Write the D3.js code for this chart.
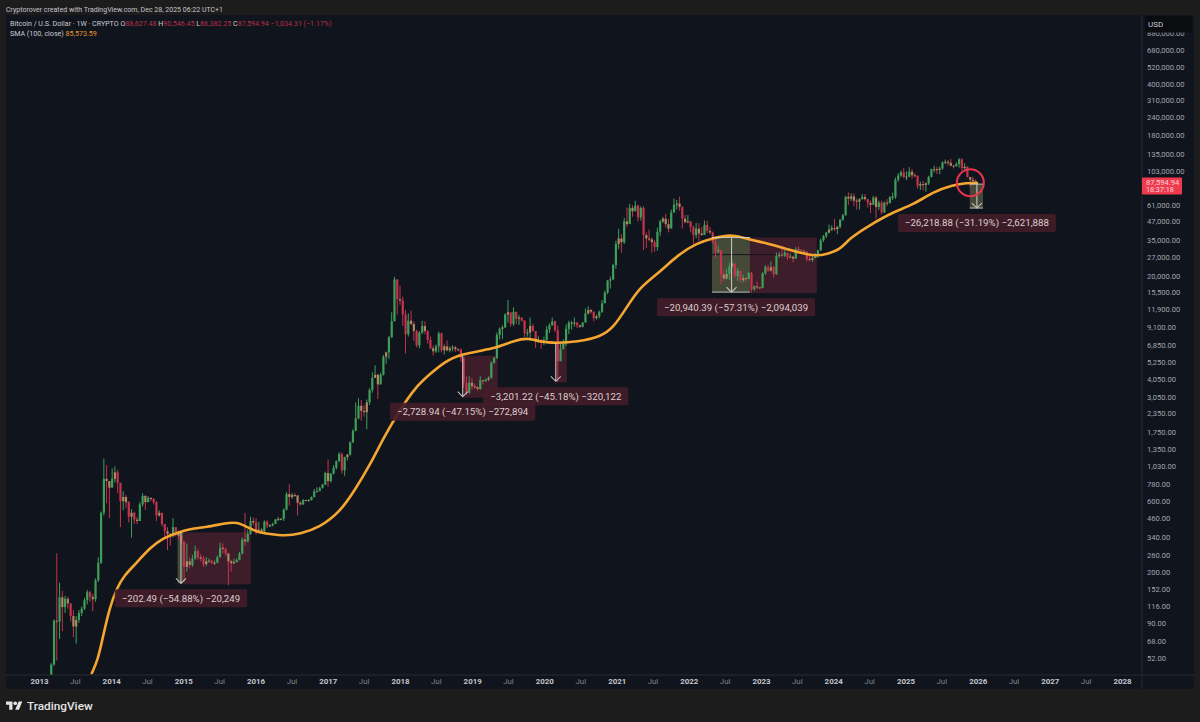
<!DOCTYPE html>
<html><head><meta charset="utf-8">
<script src="https://cdn.jsdelivr.net/npm/d3@7/dist/d3.min.js"></script>
<style>
html,body{margin:0;padding:0;background:#1c1c1d;}
svg{display:block;font-family:Roboto,"Liberation Sans",sans-serif;}
.yaxis text{fill:#a2a5ae;font-size:7.6px;font-family:Roboto,sans-serif;}
.xaxis text{font-size:7.9px;font-family:Roboto,sans-serif;}
.yaxis path,.yaxis line,.xaxis path,.xaxis line{display:none;}
</style></head><body>
<svg id="chart" width="1200" height="722"></svg>
<script>
// Two-weekly candles, first candle opens 2013-02-18
const firstCandle = "2013-02-18";
const firstOpen = 28;
const closes = [
34,47,93,92,134,115,131,122,100,85,94,105,112,128,145,135,130,175,230,500,850,820,740,
850,940,800,600,640,590,470,500,450,440,570,650,590,630,620,590,480,500,420,375,360,350,400,370,350,320,
215,235,222,245,275,250,245,225,235,237,228,230,250,290,285,265,235,228,232,240,265,330,320,360,440,430,
380,385,375,435,410,410,420,450,455,455,525,670,640,660,655,585,570,610,605,610,640,700,700,735,775,930,
820,920,1010,1120,1250,970,1190,1240,1500,1800,2180,2650,2450,2400,2800,3400,4100,4300,3700,4300,5700,6100,7700,9900,19000,14000,
13700,11000,8100,10000,9500,8500,6800,8300,9200,8500,7400,6500,6200,6700,8200,6300,6700,6300,6500,6600,6400,6350,5600,3800,3250,3800,
3600,3550,3450,3950,3900,4000,4100,5200,5600,8000,8800,9000,11000,11400,9500,11500,10300,10500,10000,8200,8300,9200,8500,7300,7400,7300,
7400,8700,9300,9900,8600,5300,6400,7000,8800,9700,9700,9700,9300,9100,9700,11200,11800,11500,10400,10700,11500,13100,15500,18700,19000,23800,33000,
36000,34000,47000,45000,58000,55000,60000,50000,58000,38000,36000,35500,34000,31500,40000,47000,49000,45000,42000,54000,61000,62000,59000,49000,46500,47000,
43000,38000,42000,39000,38000,44500,40500,39500,34000,29500,29900,20500,19300,20700,23300,24300,20000,21800,18800,19400,19200,21000,16300,17100,16800,16600,
20900,23000,21800,23000,20600,27500,28000,27600,28900,26800,27100,26300,30400,30300,29300,29300,26100,25800,26500,27900,29900,35000,37400,39500,41300,42300,
41700,43000,48300,51700,69000,67000,69300,64900,64000,66300,68800,66500,62700,60800,68000,58800,63000,54000,63000,62500,68900,69000,90000,96000,101000,94000,
94500,102000,96500,96000,82000,84000,83000,85000,94000,106000,106000,105000,107000,118000,119000,117000,112000,111000,115000,123500,108000,110000,94000,90000,88000,87594];
const highs = [
34,48,95,266,168,148,137,135,122,110,100,110,116,133,150,148,142,180,250,510,1163,1050,820,
1000,1030,980,730,700,660,600,530,510,470,590,680,660,650,640,630,600,520,490,420,400,365,460,400,380,355,
320,310,250,260,300,285,262,255,250,245,240,238,258,315,310,290,268,240,245,246,272,340,500,385,470,465,
460,435,395,445,445,420,428,455,470,460,535,690,780,680,680,660,600,620,615,620,645,725,745,750,785,950,
1150,930,1050,1130,1290,1280,1200,1250,1520,1840,2790,2980,2900,2680,2920,3490,4480,4980,4370,4450,5860,6170,7900,11400,19800,19000,
17250,14500,11800,11200,11700,9900,8700,8500,9990,9900,8600,7800,6800,6900,8450,8300,6900,7350,6700,6800,6750,6500,6500,5600,4200,4200,
4100,3750,3600,4200,3950,4050,4200,5300,5650,8300,9000,9300,11200,13800,11100,12300,11400,10900,10450,10100,8800,10500,9500,8500,7850,7500,
7800,9200,9600,10500,10000,9200,6950,7450,9450,10000,9950,10500,9800,9400,9800,12100,12500,12050,11500,10950,11700,13800,16000,18900,19900,24300,34800,
41900,38500,49700,58300,61700,60400,64800,61000,59500,59600,39500,41300,36600,35100,42600,48100,50500,52900,48800,56500,67000,65500,69000,59200,51900,52000,
47500,44000,45800,45800,43000,47700,47500,42900,40100,36000,32200,30000,21900,22500,24700,25200,24500,22700,20200,20500,19700,21400,21400,17300,18400,17000,
21300,23800,23900,25200,23500,28900,29100,31000,30000,27700,28400,27300,31400,31800,30300,30200,29700,28100,27500,28600,30200,35900,38000,39900,44700,44200,
49000,43900,48800,52900,70100,73800,72800,72800,67200,67400,71900,72000,66500,65000,70000,70000,65000,65000,64100,66500,69500,73600,93300,99800,104000,108300,
102700,109400,106400,99500,95000,87400,88500,86400,95800,107000,111900,110500,110600,119500,123200,122300,124500,113400,117900,126200,126000,116400,111200,93000,94600,90600];
const lows = [
27,33,46,50,70,79,105,112,92,72,65,90,100,110,120,125,108,125,170,225,480,580,461,
750,800,680,400,520,540,430,340,420,420,440,550,523,590,600,570,440,470,405,345,280,300,340,345,330,300,
170,200,210,215,240,240,235,215,218,230,225,222,228,250,265,255,162,200,225,230,238,262,300,315,355,410,
355,365,360,370,395,400,405,420,440,445,440,520,560,620,640,480,560,565,598,595,605,635,695,725,730,770,
750,800,910,980,1100,920,890,1130,1220,1480,1780,2150,2100,2240,1840,2680,3250,4100,2950,3700,4250,5100,5500,7700,9900,11000,
12800,9200,6000,7800,9300,7300,6600,6500,8100,8100,7000,6400,5800,6050,6100,6100,5900,6200,6100,6200,6150,6200,5250,3500,3150,3200,
3400,3450,3350,3400,3700,3850,3900,4050,5100,5500,7450,7500,8900,9700,9100,9200,9500,9350,9850,7750,7800,7300,8450,6550,7100,6450,
6850,7300,8250,9250,8400,3850,5650,6500,6750,8100,8700,9100,8900,8900,9000,9800,11000,11100,9900,10150,10350,11300,13200,15100,16500,18900,22500,
30500,28800,33000,43000,47000,50500,55500,47000,47500,30000,31100,34500,28900,29300,29800,37300,45700,42800,39600,43000,53900,56500,55600,42000,45500,45700,
39600,32900,36100,34400,37500,38500,39200,38500,33200,26500,28700,17600,18600,19000,18900,22700,19500,18600,18100,18200,18500,19000,15500,15900,16300,16300,
16700,20400,21400,21500,19600,20500,26600,27100,27000,25800,26700,24800,26200,29500,28900,28700,25200,25350,25000,26500,26600,29700,34000,36300,39000,40500,
40500,38500,42200,47500,51400,60800,64500,59600,56500,56600,66500,65000,58400,53500,63500,49000,56100,52500,53800,59800,62300,65500,66800,87000,94000,92200,
89300,93700,91200,93400,78300,76700,76200,74500,83000,93500,100800,98300,98200,105200,114700,111900,110700,107300,110800,108600,103500,104000,93000,80600,87000,86382];

// 100-week moving average
const smaDates = ["2013-09-25","2013-10-25","2013-11-20","2013-12-25","2014-01-30","2014-03-10","2014-05-10","2014-07-15","2014-09-20","2014-11-28",
"2015-02-02","2015-04-28","2015-08-08","2015-09-28","2015-11-22","2016-01-07","2016-03-13","2016-05-28","2016-08-12","2016-11-22",
"2017-03-03","2017-05-18","2017-08-02","2017-10-17","2018-01-01","2018-03-17","2018-06-01","2018-08-15","2018-10-30","2019-04-25",
"2019-08-05","2019-10-20","2019-12-10","2020-03-05","2020-06-15","2020-10-10","2020-12-15","2021-02-22","2021-04-28","2021-08-08",
"2021-11-05","2022-02-12","2022-05-03","2022-08-12","2022-11-06","2023-01-30","2023-04-06","2023-07-16","2023-10-10","2023-11-30",
"2024-02-04","2024-03-25","2024-07-05","2024-10-30","2025-02-08","2025-05-20","2025-08-29","2025-11-07","2025-12-28"];
const smaValues = [41,50,72,115,155,190,229,289,338,365,
389,400,427,433,400,371,359,349,359,400,
506,714,1053,1681,2486,3503,4350,5254,5950,6435,
7396,7630,7170,7055,7170,7753,8925,12375,16890,21360,
27820,33540,36260,38600,35200,33540,31520,28740,27380,28280,
30100,36260,44420,54400,60750,74400,82900,85600,85573];

// Measured drawdowns
const measureLabels = ["−202.49 (−54.88%) −20,249","−2,728.94 (−47.15%) −272,894","−3,201.22 (−45.18%) −320,122","−20,940.39 (−57.31%) −2,094,039","−26,218.88 (−31.19%) −2,621,888"];
const measureTops = [369,5788,7085,36539,84062];
const measureBottoms = [166.5,3059,3884,15599,57843];
const measureStarts = ["2014-12-03","2018-11-14","2020-02-23","2022-04-28","2025-11-22"];
const measureSplits = ["2015-01-01","2018-11-14","2020-02-23","2022-11-06","2026-01-28"];
const measureEnds = ["2015-12-08","2019-05-10","2020-04-24","2023-10-10","2026-01-28"];
const measureArrows = ["2014-12-20","2018-11-14","2020-02-28","2022-08-05","2025-12-28"];
const measureLabelDates = ["2014-12-20","2018-11-14","2020-02-28","2022-08-28","2025-12-28"];
const levelPrice = 28000, levelStart = "2022-04-28", levelEnd = "2023-10-10";

const circleDate = "2025-11-25", circlePrice = 85800;
const yTicks = [880000,680000,520000,400000,310000,240000,180000,135000,103000,61000,47000,35000,27000,20000,15500,11900,9100,6850,5250,4050,3050,2350,1750,1350,1030,780,600,460,340,260,200,152,116,90,68,52];
const xYears = [2013,2014,2015,2016,2017,2018,2019,2020,2021,2022,2023,2024,2025,2026,2027,2028];
const lastPrice = "87,594.94", countdown = "18:37:18";
const headerText = "Cryptorover created with TradingView.com, Dec 28, 2025 06:22 UTC+1";
const legendTitle = "Bitcoin / U.S. Dollar · 1W · CRYPTO";
const legendOHLC = [["O","88,627.48"],["H","90,546.45"],["L","86,382.25"],["C","87,594.94"]];
const legendChange = "−1,034.31 (−1.17%)";
const smaTitle = "SMA (100, close)", smaLast = "85,573.59";

const parse = d3.utcParse("%Y-%m-%d");
const svg = d3.select("#chart");
const pane = {l:6,t:15,r:1194,b:689,axR:1142,axB:675};
const colors = {pane:"#10141d",line:"#262a35",up:"#3f9f5a",down:"#c5334c",mixed:"#ad8a62",sma:"#f5a631"};

const x = d3.scaleUtc().domain([new Date(Date.UTC(2013,0,1)),new Date(Date.UTC(2028,0,1))]).range([39,1122]);
const y = d3.scaleLog().domain([52,680000]).range([658,50]);

const candles = closes.map((c,i)=>({
  date:d3.utcDay.offset(parse(firstCandle),i*14),
  open:i?closes[i-1]:firstOpen, close:c, high:highs[i], low:lows[i]}));
// small-bodied candles look tan in the reference, where red and green weeks blur together
const candleColor = d=>{
  const body=Math.abs(y(d.open)-y(d.close)), range=y(d.low)-y(d.high);
  if(body<0.42*range) return colors.mixed;
  return d.close>=d.open?colors.up:colors.down;
};

svg.append("rect").attr("x",pane.l).attr("y",pane.t).attr("width",pane.r-pane.l).attr("height",pane.b-pane.t).attr("fill",colors.pane);
svg.append("defs").append("clipPath").attr("id","plot").append("rect")
  .attr("x",pane.l).attr("y",pane.t).attr("width",pane.axR-pane.l).attr("height",pane.axB-pane.t);
const plot = svg.append("g").attr("clip-path","url(#plot)");

// measure boxes
const measures = measureLabels.map((t,i)=>({t,top:measureTops[i],bot:measureBottoms[i],s:parse(measureStarts[i]),m:parse(measureSplits[i]),e:parse(measureEnds[i]),a:parse(measureArrows[i]),la:parse(measureLabelDates[i])}));
const mg = plot.append("g");
mg.selectAll(".g").data(measures).join("rect").attr("fill","#a3a86a").attr("opacity",.36)
  .attr("x",d=>x(d.s)).attr("y",d=>y(d.top)).attr("width",d=>x(d.m)-x(d.s)).attr("height",d=>y(d.bot)-y(d.top));
mg.selectAll(".r").data(measures).join("rect").attr("fill","#8a2c40").attr("opacity",.38)
  .attr("x",d=>x(d.m)).attr("y",d=>y(d.top)).attr("width",d=>x(d.e)-x(d.m)).attr("height",d=>y(d.bot)-y(d.top)+1);
mg.append("line").attr("x1",x(parse(levelStart))).attr("x2",x(parse(levelEnd))).attr("y1",y(levelPrice)).attr("y2",y(levelPrice))
  .attr("stroke","#17141a").attr("stroke-width",1);

// candles
const cg = plot.append("g").style("filter","blur(0.45px)");
cg.selectAll(".w").data(candles).join("line")
  .attr("x1",d=>x(d.date)).attr("x2",d=>x(d.date)).attr("y1",d=>y(d.high)).attr("y2",d=>y(d.low))
  .attr("stroke",d=>d.close>=d.open?colors.up:colors.down).attr("stroke-width",1);
cg.selectAll(".b").data(candles).join("rect")
  .attr("x",d=>x(d.date)-1.1).attr("width",2.2)
  .attr("y",d=>y(Math.max(d.open,d.close))).attr("height",d=>Math.max(1,Math.abs(y(d.open)-y(d.close))))
  .attr("fill",candleColor);

// SMA
plot.append("path").datum(smaDates.map((d,i)=>[parse(d),smaValues[i]]))
  .attr("d",d3.line().x(d=>x(d[0])).y(d=>y(d[1])).curve(d3.curveBasis))
  .attr("fill","none").attr("stroke",colors.sma).attr("stroke-width",2.6).attr("stroke-linecap","round");

// arrows + rules
const ag = plot.append("g").attr("stroke","#d5d8d0").attr("fill","none").attr("opacity",.85);
ag.selectAll(".s").data(measures).join("path").attr("stroke-width",1.1)
  .attr("d",d=>{const ax=x(d.a),t=y(d.top),b=y(d.bot);return `M${ax},${t}V${b}M${ax-5},${b-5}L${ax},${b}L${ax+5},${b-5}`;});
ag.selectAll(".h").data(measures.filter(d=>x(d.m)-x(d.s)>10)).join("path").attr("stroke-width",1)
  .attr("d",d=>`M${x(d.s)},${y(d.top)}H${x(d.m)}M${x(d.s)},${y(d.bot)}H${x(d.m)}`);

// circle
plot.append("circle").attr("cx",x(parse(circleDate))).attr("cy",y(circlePrice)).attr("r",13.5)
  .attr("fill","none").attr("stroke","#e8344f").attr("stroke-width",2);

// measure labels
const lg = svg.append("g");
measures.forEach(d=>{
  const g=lg.append("g");
  const tx=g.append("text").text(d.t).attr("x",x(d.la)).attr("y",y(d.bot)+18.4).attr("text-anchor","middle")
    .attr("font-size",9.7).attr("fill","#dbcdd0");
  const w=tx.node().getComputedTextLength()+14;
  g.insert("rect","text").attr("x",x(d.la)-w/2).attr("y",y(d.bot)+6).attr("width",w).attr("height",18)
    .attr("rx",2).attr("fill","#421d28").attr("opacity",.92);
});

// axes
svg.append("line").attr("x1",pane.axR).attr("x2",pane.axR).attr("y1",pane.t).attr("y2",pane.b).attr("stroke",colors.line);
svg.append("line").attr("x1",pane.l).attr("x2",pane.r).attr("y1",pane.axB).attr("y2",pane.axB).attr("stroke",colors.line);
const ya = svg.append("g").attr("class","yaxis").attr("transform",`translate(${pane.axR},0)`)
  .call(d3.axisRight(y).tickValues(yTicks).tickSize(0).tickPadding(5).tickFormat(d3.format(",.2f")));
ya.selectAll("text").attr("dy","0.32em");
svg.append("rect").attr("x",1145).attr("y",16).attr("width",47).attr("height",16.5).attr("rx",2).attr("fill","#0a0c10");
svg.append("text").text("USD").attr("x",1148).attr("y",27).attr("font-size",8).attr("fill","#c8cad0");

const xMonths = xYears.flatMap(v=>v<2028?[new Date(Date.UTC(v,0,1)),new Date(Date.UTC(v,6,1))]:[new Date(Date.UTC(v,0,1))]);
const xa = svg.append("g").attr("class","xaxis").attr("transform",`translate(0,${pane.axB})`)
  .call(d3.axisBottom(x).tickValues(xMonths).tickSize(0).tickPadding(3)
    .tickFormat(d=>d.getUTCMonth()===0?d3.utcFormat("%Y")(d):"Jul"));
xa.selectAll("text").attr("fill",d=>d.getUTCMonth()===0?"#c4c6cc":"#80838c").attr("font-weight",d=>d.getUTCMonth()===0?700:400);

// last price tag
const tagY = y(closes[closes.length-1]);
svg.append("rect").attr("x",pane.axR).attr("y",tagY-4).attr("width",40).attr("height",17).attr("rx",1).attr("fill","#ef3a4e");
svg.append("text").text(lastPrice).attr("x",pane.axR+4).attr("y",tagY+3.2).attr("font-size",7.6).attr("fill","#fbd5da");
svg.append("text").text(countdown).attr("x",pane.axR+4).attr("y",tagY+10.8).attr("font-size",7.2).attr("fill","#fbd5da");

// header + legend
svg.append("text").text(headerText).attr("x",6).attr("y",12).attr("font-size",7).attr("fill","#c6c7c9");
const leg = svg.append("text").attr("x",10).attr("y",26).attr("font-size",7.1).attr("fill","#c9cbd1");
leg.append("tspan").text(legendTitle+"  ");
legendOHLC.forEach(([a,b])=>{leg.append("tspan").text(" "+a);leg.append("tspan").text(b).attr("fill","#b92f45");});
leg.append("tspan").text("  "+legendChange).attr("fill","#b92f45");
const leg2 = svg.append("text").attr("x",10).attr("y",35.5).attr("font-size",7.1).attr("fill","#c9cbd1");
leg2.append("tspan").text(smaTitle+"  ");
leg2.append("tspan").text(smaLast).attr("fill","#e89a2c");

// footer
const fg = svg.append("g").attr("transform","translate(6,699.6) scale(0.46)");
fg.append("path").attr("d","M14 22H7V11H0V4h14v18zM28 22h-8l7.5-18h8L28 22z").attr("fill","#e4e4e4");
fg.append("circle").attr("cx",20).attr("cy",8).attr("r",4).attr("fill","#e4e4e4");
svg.append("text").text("TradingView").attr("x",27).attr("y",710).attr("font-size",11.8).attr("font-weight",500).attr("fill","#e4e4e4");
</script>
</body></html>
